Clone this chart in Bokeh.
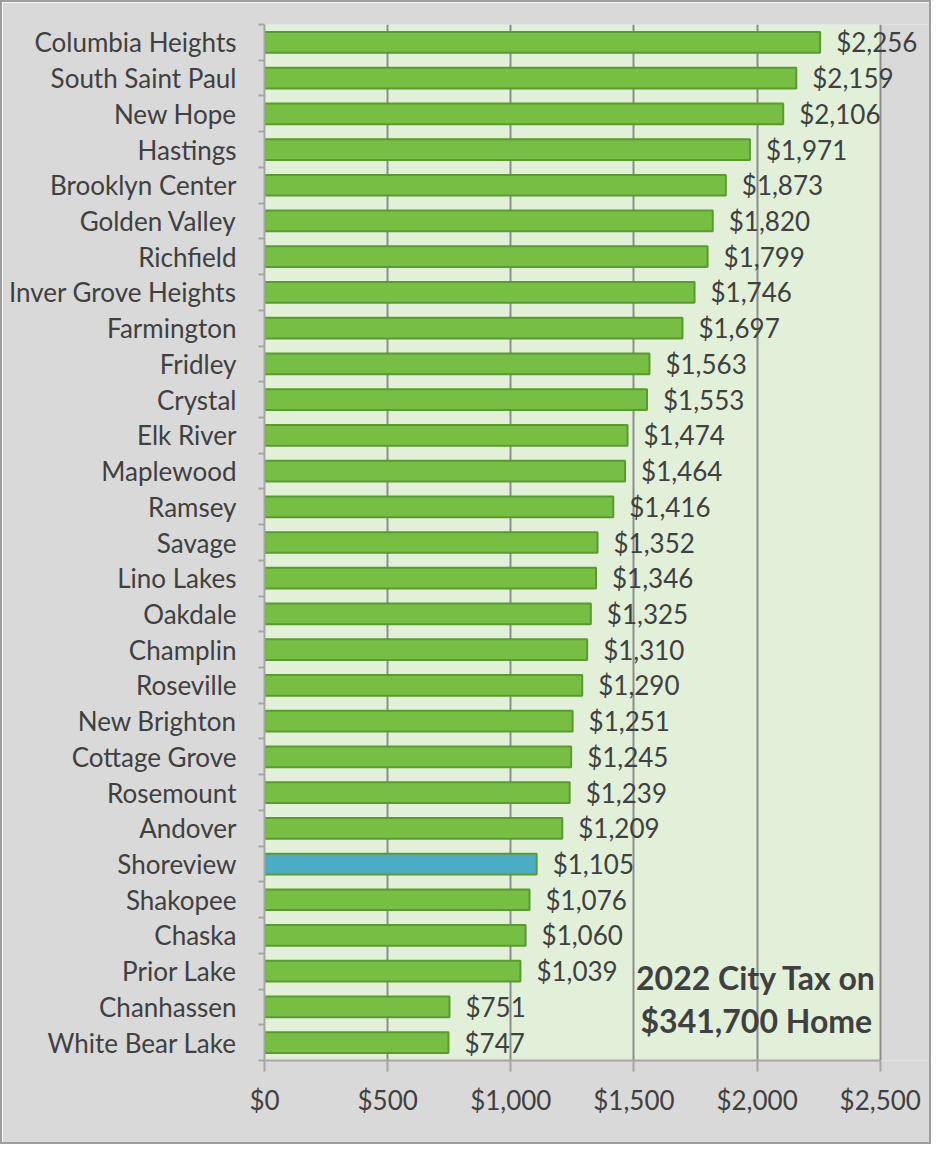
from bokeh.plotting import figure
from bokeh.models import (Range1d, LinearAxis, FixedTicker, NumeralTickFormatter,
                          ColumnDataSource, Label, LabelSet, CustomJSTickFormatter, BoxAnnotation)
from bokeh.embed import file_html
from bokeh.resources import INLINE
from bokeh.core.properties import value

cities = ["Columbia Heights", "South Saint Paul", "New Hope", "Hastings", "Brooklyn Center",
          "Golden Valley", "Richfield", "Inver Grove Heights", "Farmington", "Fridley",
          "Crystal", "Elk River", "Maplewood", "Ramsey", "Savage", "Lino Lakes", "Oakdale",
          "Champlin", "Roseville", "New Brighton", "Cottage Grove", "Rosemount", "Andover",
          "Shoreview", "Shakopee", "Chaska", "Prior Lake", "Chanhassen", "White Bear Lake"]
taxes = [2256, 2159, 2106, 1971, 1873, 1820, 1799, 1746, 1697, 1563, 1553, 1474, 1464, 1416,
         1352, 1346, 1325, 1310, 1290, 1251, 1245, 1239, 1209, 1105, 1076, 1060, 1039, 751, 747]
highlight = "Shoreview"
x_ticks = [0, 500, 1000, 1500, 2000, 2500]
note_lines = ["2022 City Tax on", "$341,700 Home"]

FONT = "Lato"
TXT = "#404040"
GREEN = "#77bf43"
EDGE = "#5a9a2e"
BLUE = "#4bacc6"
AXIS = "#a6a6a6"
X_MAX = x_ticks[-1]

n = len(cities)
ypos = [n - i - 0.5 for i in range(n)]  # first city at top

p = figure(width=931, height=1144, output_backend="svg", toolbar_location=None,
           y_range=Range1d(0, n), x_range=Range1d(0, 2700),
           x_axis_location=None, y_axis_location=None,
           min_border_left=262, min_border_right=4, min_border_top=22, min_border_bottom=86)
p.background_fill_color = "#d9d9d9"
p.border_fill_color = "#d9d9d9"
p.outline_line_color = None
p.styles = {"border": "2px solid #9e9e9e", "box-sizing": "border-box"}

p.add_layout(BoxAnnotation(left=0, right=X_MAX, fill_color="#e2f0d9", fill_alpha=1,
                           line_color=None, level="image"))

colors = [BLUE if c == highlight else GREEN for c in cities]
src = ColumnDataSource(dict(city=cities, y=ypos, tax=taxes, color=colors,
                            lab=["${:,}".format(t) for t in taxes]))

p.hbar(y="y", right="tax", left=0, height=0.58, source=src, fill_color="color",
       line_color=EDGE, line_width=2)
p.add_layout(LabelSet(x="tax", y="y", text="lab", source=src, x_offset=16,
                      text_baseline="middle", text_align="left", text_font=value(FONT),
                      text_font_size="26px", text_color=TXT))

names_rev = list(reversed(cities))
yaxis = LinearAxis(ticker=FixedTicker(ticks=ypos, minor_ticks=list(range(n + 1))),
                   formatter=CustomJSTickFormatter(args=dict(names=names_rev),
                                                   code="return names[Math.floor(tick)] || '';"),
                   axis_line_color=AXIS, axis_line_width=2,
                   major_tick_line_color=None,
                   minor_tick_line_color=AXIS, minor_tick_line_width=2,
                   minor_tick_out=6, minor_tick_in=0,
                   major_label_text_font=FONT, major_label_text_font_size="26px",
                   major_label_text_color=TXT, major_label_standoff=22)
p.add_layout(yaxis, "left")

xaxis = LinearAxis(ticker=FixedTicker(ticks=x_ticks), formatter=NumeralTickFormatter(format="$0,0"),
                   bounds=(0, X_MAX),
                   major_label_text_font=FONT, major_label_text_font_size="26px",
                   major_label_text_color=TXT, major_tick_out=11, major_tick_in=0,
                   minor_tick_line_color=None, axis_line_color=AXIS,
                   major_tick_line_color=AXIS, axis_line_width=2, major_tick_line_width=2,
                   major_label_standoff=12)
p.add_layout(xaxis, "below")

p.xgrid.ticker = FixedTicker(ticks=x_ticks)
p.xgrid.grid_line_color = "#8c8c8c"
p.xgrid.grid_line_width = 2
p.ygrid.grid_line_color = None

for i, line in enumerate(note_lines):
    p.add_layout(Label(x=1997, y=2.33 - i * 1.2, text=line, text_align="center",
                       text_baseline="middle", text_font=FONT, text_font_style="bold",
                       text_font_size="32px", text_color=TXT))

open("out.html", "w").write(file_html(p, INLINE))
